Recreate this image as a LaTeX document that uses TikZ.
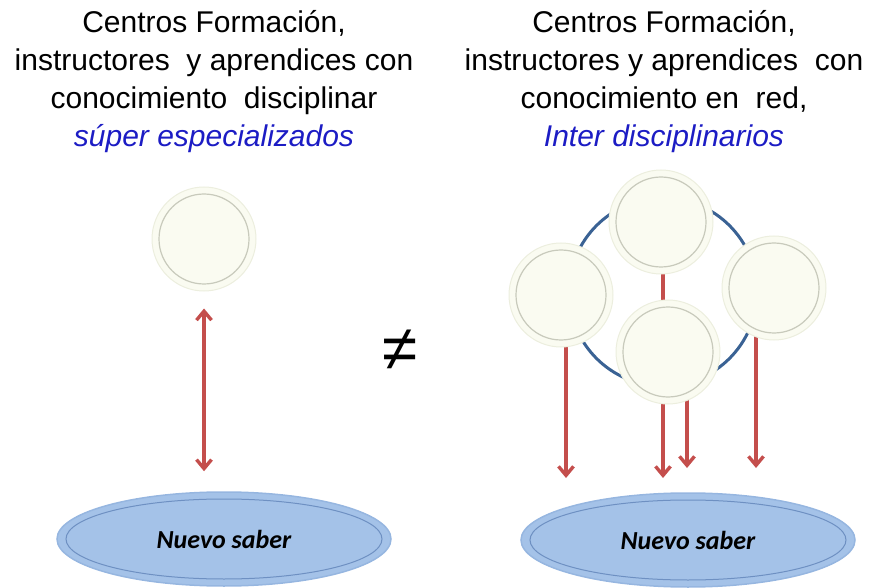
\documentclass[tikz,border=0pt]{standalone}
\usepackage{fontspec}
\setmainfont{Liberation Sans}
\newfontfamily\calibri{Carlito}
\usetikzlibrary{arrows.meta,shapes.geometric,backgrounds}
\definecolor{marfil}{RGB}{250,251,241}
\definecolor{borde}{RGB}{236,238,222}
\definecolor{gris}{RGB}{200,202,188}
\definecolor{celeste}{RGB}{164,194,232}
\definecolor{celesteosc}{RGB}{150,182,224}
\definecolor{azulosc}{RGB}{110,144,194}
\definecolor{rojo}{RGB}{196,78,76}
\definecolor{azulanillo}{RGB}{58,98,148}
\definecolor{azultexto}{RGB}{28,28,196}

\begin{document}
\begin{tikzpicture}[x=1pt, y=-1pt, >={Straight Barb[length=9pt,width=15pt]},
    titulo/.style={align=center,anchor=base,font=\fontsize{30}{38}\selectfont},
    centro/.style={circle,fill=marfil,draw=borde,line width=1pt,minimum size=104pt,inner sep=0pt,
      path picture={\draw[gris,line width=1.2pt] (path picture bounding box.center) circle (45pt);}},
    saber/.style={ellipse,fill=celeste,draw=celesteosc,line width=1.5pt,minimum width=334pt,minimum height=94pt,
      font=\calibri\bfseries\itshape\fontsize{26}{30}\selectfont,
      path picture={\draw[azulosc,line width=1pt] (path picture bounding box.center) ellipse (158pt and 40pt);}},
    flecha/.style={draw=rojo,line width=3.4pt},
    anillo/.style={draw=azulanillo,line width=3pt}]
  \useasboundingbox (0,0) rectangle (876,588);
  % titulos
  \node[titulo] (ti) at (214,147) {Centros Formación,\\instructores~ y aprendices con\\conocimiento~ disciplinar\\\textcolor{azultexto}{\itshape súper especializados}};
  \node[titulo] (td) at (664,147) {Centros Formación,\\instructores y aprendices~ con\\conocimiento en~ red,\\\textcolor{azultexto}{\itshape Inter disciplinarios}};
  % lado izquierdo
  \node[centro] (ci) at (204,239) {};
  \node[saber] (si) at (224,539) {Nuevo saber};
  \draw[flecha,<->,shorten <=17pt,shorten >=20pt] (ci.south) -- (ci.south |- si.north);
  \node[font=\fontsize{64}{64}\selectfont] (neq) at (400,350) {≠};
  % lado derecho
  \node[saber] (sd) at (688,540) {Nuevo saber};
  \node[centro] (ra) at (561,295) {};
  \node[centro] (rb) at (661,222) {};
  \node[centro] (rc) at (774,288) {};
  \node[centro] (rd) at (668,352) {};
  \coordinate (cr) at (663,292);
  \coordinate (fa) at (566,478);
  \coordinate (fb) at (663,478);
  \coordinate (fd) at (687,468);
  \coordinate (fc) at (756,468);
  \begin{scope}[on background layer]
    \draw[anillo] (cr) circle (94pt);
    \draw[flecha,->] ([xshift=5pt]ra.center) -- (fa);
    \draw[flecha,->] ([xshift=2pt]rb.center) -- (fb);
    \draw[flecha,->] ([xshift=19pt]rd.center) -- (fd);
    \draw[flecha,->] ([xshift=-18pt]rc.center) -- (fc);
  \end{scope}
\end{tikzpicture}
\end{document}
